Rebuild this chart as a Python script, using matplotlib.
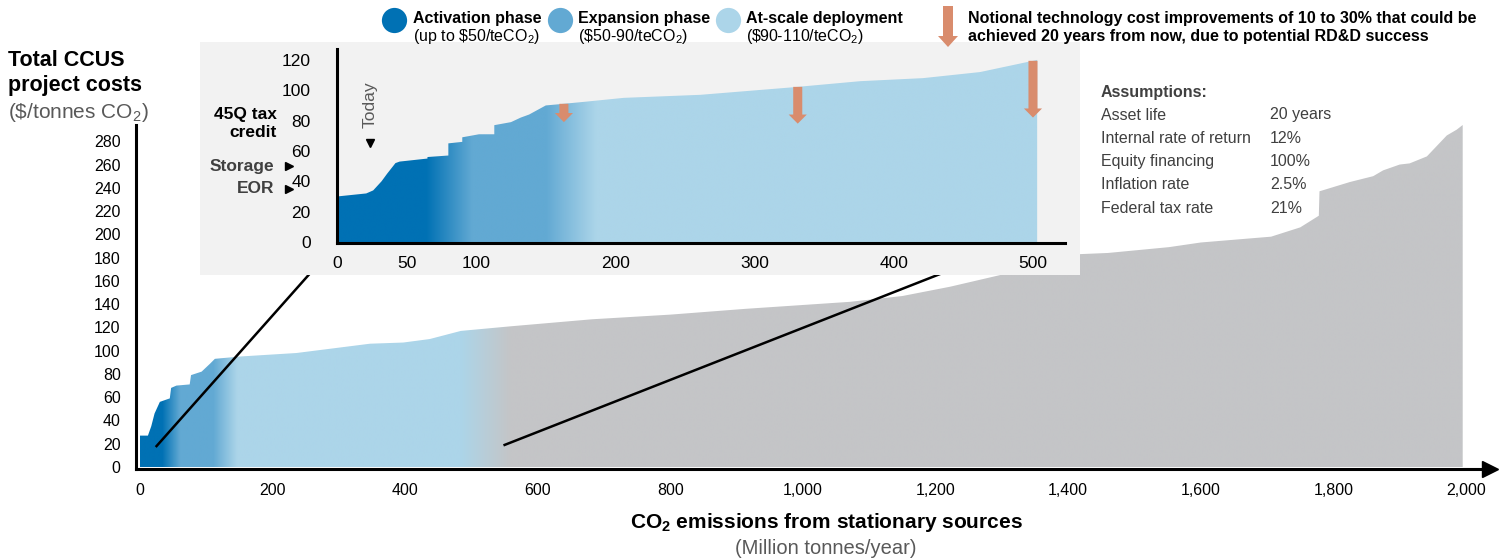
import numpy as np
import matplotlib
matplotlib.use('Agg')
import matplotlib.pyplot as plt
from matplotlib.patches import Rectangle
from matplotlib.colors import to_rgb

plt.rcParams['font.family'] = ['Liberation Sans', 'DejaVu Sans']
plt.rcParams['mathtext.fontset'] = 'custom'
plt.rcParams['mathtext.rm'] = 'Liberation Sans'
plt.rcParams['mathtext.bf'] = 'Liberation Sans:bold'
plt.rcParams['mathtext.it'] = 'Liberation Sans:italic'

# full cost curve: cumulative Mt CO2/yr vs $/t
curve_x = [0, 12, 17, 22, 30, 45, 47, 55, 75, 77, 93, 106, 113, 151, 236, 347, 397, 437,
           484, 560, 682, 800, 914, 1071, 1150, 1222, 1320, 1418, 1460, 1552, 1600, 1706,
           1750, 1778, 1779, 1825, 1860, 1875, 1900, 1915, 1941, 1971, 1986, 1995]
curve_y = [27, 27, 35, 46, 56, 59, 68, 70, 71, 79, 82, 89, 93, 95, 98, 106, 107, 110,
           117, 121, 127, 131, 136, 142, 147, 155, 168, 183, 184, 189, 193, 198,
           206, 216, 237, 245, 250, 255, 260, 261, 267, 285, 290, 294]

# close-up of the first ~500 Mt
zoom_x = [0, 21, 26, 32, 36, 42, 45, 65, 65, 80, 80, 90, 90, 102, 113, 113, 125, 132, 138,
          150, 162, 179, 206, 261, 328, 376, 421, 462, 503]
zoom_y = [30, 32, 34, 40, 45, 52, 53, 55, 56, 57, 65, 66, 69, 71, 71, 77, 79, 82, 84,
          90, 91, 92.5, 95, 97, 102, 106, 108, 112, 120]

# RD&D cost reduction arrows (position, cost after improvement)
rdd_x = [163, 331, 500]
rdd_end = [79, 78, 82]

credit_names = ['Storage', 'EOR']
credit_levels = [50, 35]
today_x = 24

phase_names = ['Activation phase', 'Expansion phase', 'At-scale deployment']
phase_ranges = [r'(up to \$50/teCO$_2$)', r'(\$50-90/teCO$_2$)', r'(\$90-110/teCO$_2$)']

assumption_names = ['Asset life', 'Internal rate of return', 'Equity financing',
                    'Inflation rate', 'Federal tax rate']
assumption_values = ['20 years', '12%', '100%', '2.5%', '21%']

main_yticks = np.arange(0, 281, 20)
main_xticks = np.arange(0, 2001, 200)
zoom_xticks = [0, 50, 100, 200, 300, 400, 500]
zoom_yticks = np.arange(0, 121, 20)

DARK, MID, LIGHT, GREY = '#0071b4', '#62a9d3', '#acd5e9', '#c4c5c7'
ORANGE = '#d98c6d'
TXT_GREY = '#595959'


def gradient_fill(ax, x, y, stops):
    poly = ax.fill_between(x, y, 0, color='none', lw=0)
    xs = np.linspace(min(x), max(x), 1500)
    sx = [s[0] for s in stops]
    rgb = np.array([to_rgb(s[1]) for s in stops])
    img = np.stack([np.interp(xs, sx, rgb[:, i]) for i in range(3)], axis=-1)[None, :, :]
    im = ax.imshow(img, extent=(min(x), max(x), 0, max(y)), aspect='auto',
                   origin='lower', interpolation='bilinear', zorder=1)
    im.set_clip_path(poly.get_paths()[0], transform=ax.transData)


fig = plt.figure(figsize=(15.06, 5.59), dpi=100)

# main chart
ax = fig.add_axes([0.0903, 0.161, 0.899, 0.6154])
gradient_fill(ax, curve_x, curve_y,
              [(0, DARK), (33, DARK), (60, MID), (110, MID), (146, LIGHT),
               (483, LIGHT), (558, GREY), (1995, GREY)])
ax.set_xlim(-6, 2036)
ax.set_ylim(-1.7, 294)
for s in ['top', 'right']:
    ax.spines[s].set_visible(False)
for s in ['left', 'bottom']:
    ax.spines[s].set_linewidth(2.2)
ax.plot([1], [0], marker='>', ms=11, color='k', transform=ax.transAxes, clip_on=False)
ax.set_yticks(main_yticks)
ax.set_xticks(main_xticks)
ax.set_xticklabels([f'{v:,}' for v in main_xticks])
ax.tick_params(axis='y', length=0, pad=11, labelsize=11.5)
ax.tick_params(axis='x', length=0, pad=10, labelsize=11.5)

# lines tying the close-up to the curve
ax.plot([25, 262], [18, 170], color='k', lw=1.8, clip_on=False, zorder=5)
ax.plot([550, 1225], [19, 170], color='k', lw=1.8, clip_on=False, zorder=5)

# close-up panel
fig.add_artist(Rectangle((200 / 1506, 1 - 275 / 559), 880 / 1506, 233 / 559,
                         transform=fig.transFigure, facecolor='#f2f2f2',
                         edgecolor='none', zorder=1))
ax2 = fig.add_axes([337 / 1506, 1 - 243 / 559, 728 / 1506, 194 / 559], zorder=2)
ax2.set_facecolor('none')
gradient_fill(ax2, zoom_x, zoom_y,
              [(0, DARK), (64, DARK), (97, MID), (150, MID), (186, LIGHT), (503, LIGHT)])
ax2.set_xlim(0, 523)
ax2.set_ylim(-0.66, 127.2)
for s in ['top', 'right']:
    ax2.spines[s].set_visible(False)
for s in ['left', 'bottom']:
    ax2.spines[s].set_linewidth(2.2)
ax2.set_xticks(zoom_xticks)
ax2.set_yticks(zoom_yticks)
ax2.tick_params(axis='y', length=0, pad=19, labelsize=12.5)
ax2.tick_params(axis='x', length=0, pad=9, labelsize=12.5)

for x, end in zip(rdd_x, rdd_end):
    top = np.interp(x, zoom_x, zoom_y)
    ax2.arrow(x, top, 0, end - top, width=6.5, head_width=13, head_length=6,
              length_includes_head=True, color=ORANGE, lw=0, zorder=4)

ytrans = ax2.get_yaxis_transform()
for name, lvl in zip(credit_names, credit_levels):
    ax2.plot(-0.066, lvl, marker='>', ms=6, color='k', transform=ytrans, clip_on=False)
    ax2.text(-0.0865, lvl, name, transform=ytrans, ha='right', va='center',
             fontsize=12.5, fontweight='bold', color='#404040')
ax2.text(-0.083, 78, '45Q tax\ncredit', transform=ytrans, ha='right', va='center',
         multialignment='right', fontsize=12.5, fontweight='bold', linespacing=1.25)
ax2.plot(today_x, 65, marker='v', ms=6, color='k')
ax2.text(today_x, 75, 'Today', rotation=90, ha='center', va='bottom',
         fontsize=12.5, color=TXT_GREY)

# overlay for legend and titles (pixel coordinates)
ov = fig.add_axes([0, 0, 1, 1], zorder=3)
ov.set_xlim(0, 1506)
ov.set_ylim(559, 0)
ov.axis('off')
ov.patch.set_alpha(0)

for cx, tx, col, name, rng in zip([394, 560, 728], [413, 578, 746], [DARK, MID, LIGHT],
                                  phase_names, phase_ranges):
    ov.scatter([cx], [20], s=330, color=col, lw=0)
    ov.text(tx, 18, name, fontsize=11.5, fontweight='bold', va='center')
    ov.text(tx, 36, rng, fontsize=11.5, va='center')
ov.arrow(948, 6, 0, 41, width=10, head_width=20, head_length=11,
         length_includes_head=True, color=ORANGE, lw=0)
ov.text(968, 18, 'Notional technology cost improvements of 10 to 30% that could be',
        fontsize=11.5, fontweight='bold', va='center')
ov.text(968, 36, 'achieved 20 years from now, due to potential RD&D success',
        fontsize=11.5, fontweight='bold', va='center')

ov.text(8, 61, 'Total CCUS', fontsize=15.5, fontweight='bold', va='center')
ov.text(8, 86, 'project costs', fontsize=15.5, fontweight='bold', va='center')
ov.text(8, 112, r'(\$/tonnes CO$_2$)', fontsize=15, color=TXT_GREY, va='center')

ov.text(826, 523, r'CO$_\mathbf{2}$ emissions from stationary sources', fontsize=15,
        fontweight='bold', ha='center', va='center')
ov.text(826, 548, '(Million tonnes/year)', fontsize=14.5, color=TXT_GREY,
        ha='center', va='center')

ov.text(1101, 93, 'Assumptions:', fontsize=11.5, fontweight='bold', color='#404040',
        va='center')
for i, (name, val) in enumerate(zip(assumption_names, assumption_values)):
    y = 115 + i * 23.3
    ov.text(1101, y, name, fontsize=11.5, color='#404040', va='center')
    ov.text(1270, y, val, fontsize=11.5, color='#404040', va='center')

fig.savefig('out.png', dpi=100)
